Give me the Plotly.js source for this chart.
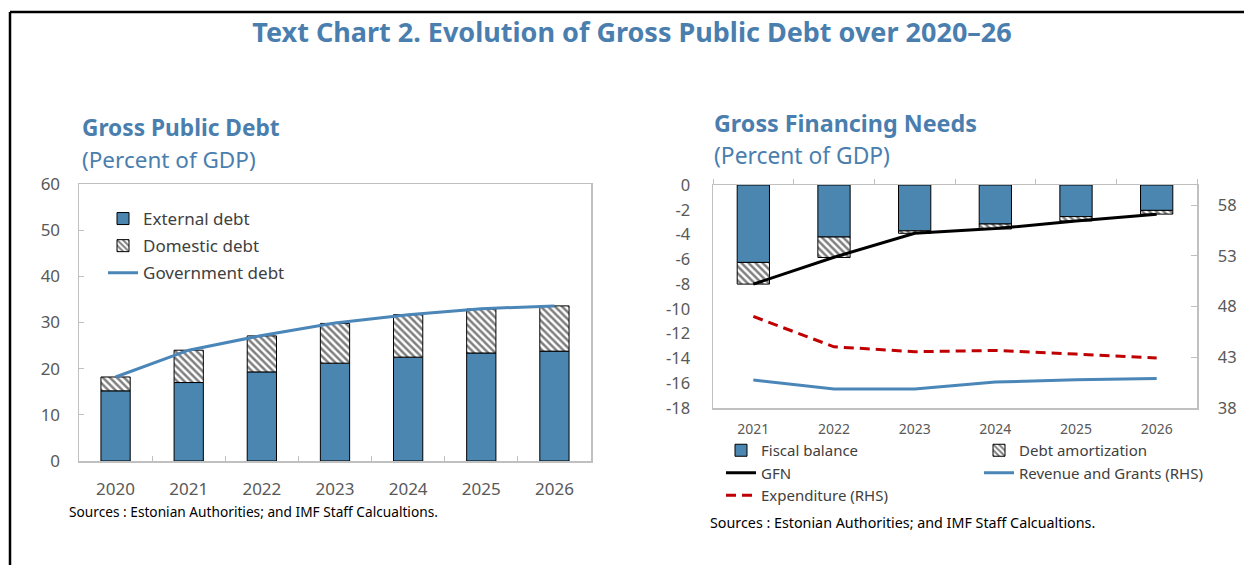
<!DOCTYPE html>
<html>
<head>
<meta charset="utf-8">
<script src="https://cdn.plot.ly/plotly-3.0.1.min.js"></script>
<style>
  html, body { margin: 0; padding: 0; background: #ffffff; }
  #chart { width: 1244px; height: 565px; }
</style>
</head>
<body>
<div id="chart"></div>
<script>
// ---------- Data: Gross Public Debt (left panel) ----------
const debtYears = ['2020', '2021', '2022', '2023', '2024', '2025', '2026'];
const externalDebt = [15.2, 17.0, 19.3, 21.2, 22.5, 23.4, 23.8];
const domesticDebt = [3.0, 7.0, 7.8, 8.6, 9.2, 9.5, 9.8];
const governmentDebt = [18.2, 24.0, 27.2, 29.9, 31.7, 33.0, 33.6];

// ---------- Data: Gross Financing Needs (right panel) ----------
const gfnYears = ['2021', '2022', '2023', '2024', '2025', '2026'];
const fiscalBalance = [-6.25, -4.2, -3.7, -3.15, -2.55, -2.05];
const debtAmortization = [-1.75, -1.65, -0.2, -0.4, -0.35, -0.3];
const gfn = [-8.0, -5.83, -3.9, -3.52, -2.9, -2.37];
const revenueGrants = [40.76, 39.87, 39.87, 40.56, 40.79, 40.92];
const expenditure = [47.03, 44.04, 43.55, 43.68, 43.32, 42.93];

// ---------- Tick labels ----------
const gfnLeftTickVals = [0, -2, -4, -6, -8, -10, -12, -14, -16, -18];
const gfnLeftTickText = ['0', '-2', '-4', '-6', '-8', '-10', '-12', '-14', '-16', '-18'];
const gfnRightTickVals = [38, 43, 48, 53, 58];

// ---------- Texts ----------
const mainTitle = 'Text Chart 2. Evolution of Gross Public Debt over 2020–26';
const leftTitle = 'Gross Public Debt';
const rightTitle = 'Gross Financing Needs';
const unitsText = '(Percent of GDP)';
const sourceText = 'Sources : Estonian Authorities; and IMF Staff Calcualtions.';

// ---------- Styling ----------
const W = 1244, H = 565;
const px = v => v / W;
const py = v => 1 - v / H;
const FONT = 'Noto Sans, Open Sans, sans-serif';
const TITLE_BLUE = '#4a7eae';
const BAR_BLUE = '#4a86b0';
const LINE_BLUE = '#4a86b8';
const AXIS_GRAY = '#c0c0c0';
const TICK_GRAY = '#595959';
const hatch = { shape: '\\', size: 5, solidity: 0.5, fgcolor: '#000000', bgcolor: '#ffffff', fillmode: 'overlay' };
const catRangeR = [-0.5, gfnYears.length - 0.5];

const traces = [
  // Left panel
  { type: 'bar', name: 'External debt', x: debtYears, y: externalDebt, xaxis: 'x', yaxis: 'y',
    marker: { color: BAR_BLUE, line: { color: '#000000', width: 1 } },
    legend: 'legend', legendgroup: 'a' },
  { type: 'bar', name: 'Domestic debt', x: debtYears, y: domesticDebt, xaxis: 'x', yaxis: 'y',
    marker: { color: '#ffffff', pattern: hatch, line: { color: '#000000', width: 1 } },
    legend: 'legend', legendgroup: 'b' },
  { type: 'scatter', mode: 'lines', name: 'Government debt', x: debtYears, y: governmentDebt,
    xaxis: 'x', yaxis: 'y', line: { color: LINE_BLUE, width: 3 },
    legend: 'legend', legendgroup: 'c' },

  // Right panel
  { type: 'bar', name: 'Fiscal balance', x: gfnYears, y: fiscalBalance, xaxis: 'x2', yaxis: 'y2',
    marker: { color: BAR_BLUE, line: { color: '#000000', width: 1 } },
    legend: 'legend2', legendgroup: 'd' },
  { type: 'bar', name: 'Debt amortization', x: gfnYears, y: debtAmortization, xaxis: 'x2', yaxis: 'y2',
    marker: { color: '#ffffff', pattern: hatch, line: { color: '#000000', width: 1 } },
    legend: 'legend3', legendgroup: 'e' },
  { type: 'scatter', mode: 'lines', name: 'GFN', x: gfnYears, y: gfn, xaxis: 'x2', yaxis: 'y2',
    line: { color: '#000000', width: 3 }, legend: 'legend2', legendgroup: 'f' },
  { type: 'scatter', mode: 'lines', name: 'Revenue and Grants (RHS)', x: gfnYears, y: revenueGrants,
    xaxis: 'x3', yaxis: 'y3', line: { color: LINE_BLUE, width: 3 }, legend: 'legend3', legendgroup: 'g' },
  { type: 'scatter', mode: 'lines', name: 'Expenditure (RHS)', x: gfnYears, y: expenditure,
    xaxis: 'x3', yaxis: 'y3', line: { color: '#c00000', width: 3, dash: '10px,6px' },
    legend: 'legend2', legendgroup: 'h' }
];

const legendFontR = { family: FONT, size: 15, color: '#404040' };

const layout = {
  width: W, height: H,
  margin: { l: 0, r: 0, t: 0, b: 0, pad: 0 },
  paper_bgcolor: '#ffffff', plot_bgcolor: '#ffffff',
  font: { family: FONT, color: TICK_GRAY },
  barmode: 'relative',
  bargap: 0.6,
  title: {
    text: mainTitle, x: px(632), xanchor: 'center', y: py(33), yanchor: 'middle',
    xref: 'paper', yref: 'paper',
    font: { family: FONT, size: 27, color: TITLE_BLUE, weight: 'bold' }
  },
  // Left panel axes
  xaxis: {
    domain: [px(79), px(591)], anchor: 'y', type: 'category',
    showline: true, linecolor: AXIS_GRAY, linewidth: 1.5, mirror: true,
    ticks: 'inside', tickson: 'boundaries', ticklen: 5, tickcolor: AXIS_GRAY,
    showgrid: false, zeroline: false,
    tickfont: { family: FONT, size: 17, color: TICK_GRAY }, ticklabelstandoff: 12
  },
  yaxis: {
    domain: [py(461), py(184)], anchor: 'x', range: [0, 60], dtick: 10,
    showline: true, linecolor: AXIS_GRAY, linewidth: 1.5, mirror: true,
    ticks: 'inside', ticklen: 5, tickcolor: AXIS_GRAY,
    showgrid: false, zeroline: false,
    tickfont: { family: FONT, size: 17, color: TICK_GRAY }, ticklabelstandoff: 14
  },
  // Right panel axes
  xaxis2: {
    domain: [px(713), px(1197)], anchor: 'y2', side: 'top', type: 'category', range: catRangeR,
    showline: true, linecolor: AXIS_GRAY, linewidth: 1.5,
    ticks: 'outside', tickson: 'boundaries', ticklen: 5, tickcolor: AXIS_GRAY,
    showticklabels: false, showgrid: false, zeroline: false
  },
  xaxis3: {
    overlaying: 'x2', anchor: 'y2', side: 'bottom', type: 'category', range: catRangeR,
    showline: true, linecolor: AXIS_GRAY, linewidth: 1.5,
    ticks: '', showgrid: false, zeroline: false,
    tickfont: { family: FONT, size: 14, color: TICK_GRAY }, ticklabelstandoff: 8
  },
  yaxis2: {
    domain: [py(408), py(185)], anchor: 'x2', range: [-18, 0],
    tickvals: gfnLeftTickVals, ticktext: gfnLeftTickText,
    showline: true, linecolor: AXIS_GRAY, linewidth: 1.5,
    ticks: '', showgrid: false, zeroline: false,
    tickfont: { family: FONT, size: 16.5, color: TICK_GRAY }, ticklabelstandoff: 18
  },
  yaxis3: {
    overlaying: 'y2', anchor: 'x2', side: 'right', range: [38, 60],
    tickvals: gfnRightTickVals,
    showline: true, linecolor: AXIS_GRAY, linewidth: 1.5,
    ticks: 'inside', ticklen: 6, tickcolor: AXIS_GRAY,
    showgrid: false, zeroline: false,
    tickfont: { family: FONT, size: 16.5, color: TICK_GRAY }, ticklabelstandoff: 16
  },
  legend: {
    x: px(103), xanchor: 'left', y: py(201), yanchor: 'top',
    orientation: 'v', traceorder: 'grouped', tracegroupgap: 2,
    bgcolor: 'rgba(0,0,0,0)', borderwidth: 0,
    font: { family: FONT, size: 17, color: '#404040' }
  },
  legend2: {
    x: px(721), xanchor: 'left', y: py(434), yanchor: 'top',
    orientation: 'v', traceorder: 'grouped', tracegroupgap: 0,
    bgcolor: 'rgba(0,0,0,0)', borderwidth: 0, font: legendFontR
  },
  legend3: {
    x: px(979), xanchor: 'left', y: py(434), yanchor: 'top',
    orientation: 'v', traceorder: 'grouped', tracegroupgap: 0,
    bgcolor: 'rgba(0,0,0,0)', borderwidth: 0, font: legendFontR
  },
  annotations: [
    { text: '<b>' + leftTitle + '</b>', xref: 'paper', yref: 'paper', x: px(80), y: py(127),
      xanchor: 'left', yanchor: 'middle', showarrow: false,
      font: { family: FONT, size: 22.7, color: TITLE_BLUE } },
    { text: unitsText, xref: 'paper', yref: 'paper', x: px(80), y: py(159),
      xanchor: 'left', yanchor: 'middle', showarrow: false,
      font: { family: FONT, size: 22.5, color: TITLE_BLUE } },
    { text: '<b>' + rightTitle + '</b>', xref: 'paper', yref: 'paper', x: px(712), y: py(123),
      xanchor: 'left', yanchor: 'middle', showarrow: false,
      font: { family: FONT, size: 23.3, color: TITLE_BLUE } },
    { text: unitsText, xref: 'paper', yref: 'paper', x: px(712), y: py(155),
      xanchor: 'left', yanchor: 'middle', showarrow: false,
      font: { family: FONT, size: 22.8, color: TITLE_BLUE } },
    { text: sourceText, xref: 'paper', yref: 'paper', x: px(67), y: py(511),
      xanchor: 'left', yanchor: 'middle', showarrow: false,
      font: { family: FONT, size: 13.7, color: '#000000' } },
    { text: sourceText, xref: 'paper', yref: 'paper', x: px(708), y: py(522),
      xanchor: 'left', yanchor: 'middle', showarrow: false,
      font: { family: FONT, size: 14.3, color: '#000000' } }
  ],
  shapes: [
    { type: 'line', xref: 'paper', yref: 'paper', x0: px(10), x1: 1, y0: py(12), y1: py(12),
      line: { color: '#000000', width: 2.5 } },
    { type: 'line', xref: 'paper', yref: 'paper', x0: px(10), x1: px(10), y0: py(12), y1: 0,
      line: { color: '#000000', width: 2.5 } }
  ]
};

Plotly.newPlot('chart', traces, layout, { displayModeBar: false, staticPlot: true });
</script>
</body>
</html>
